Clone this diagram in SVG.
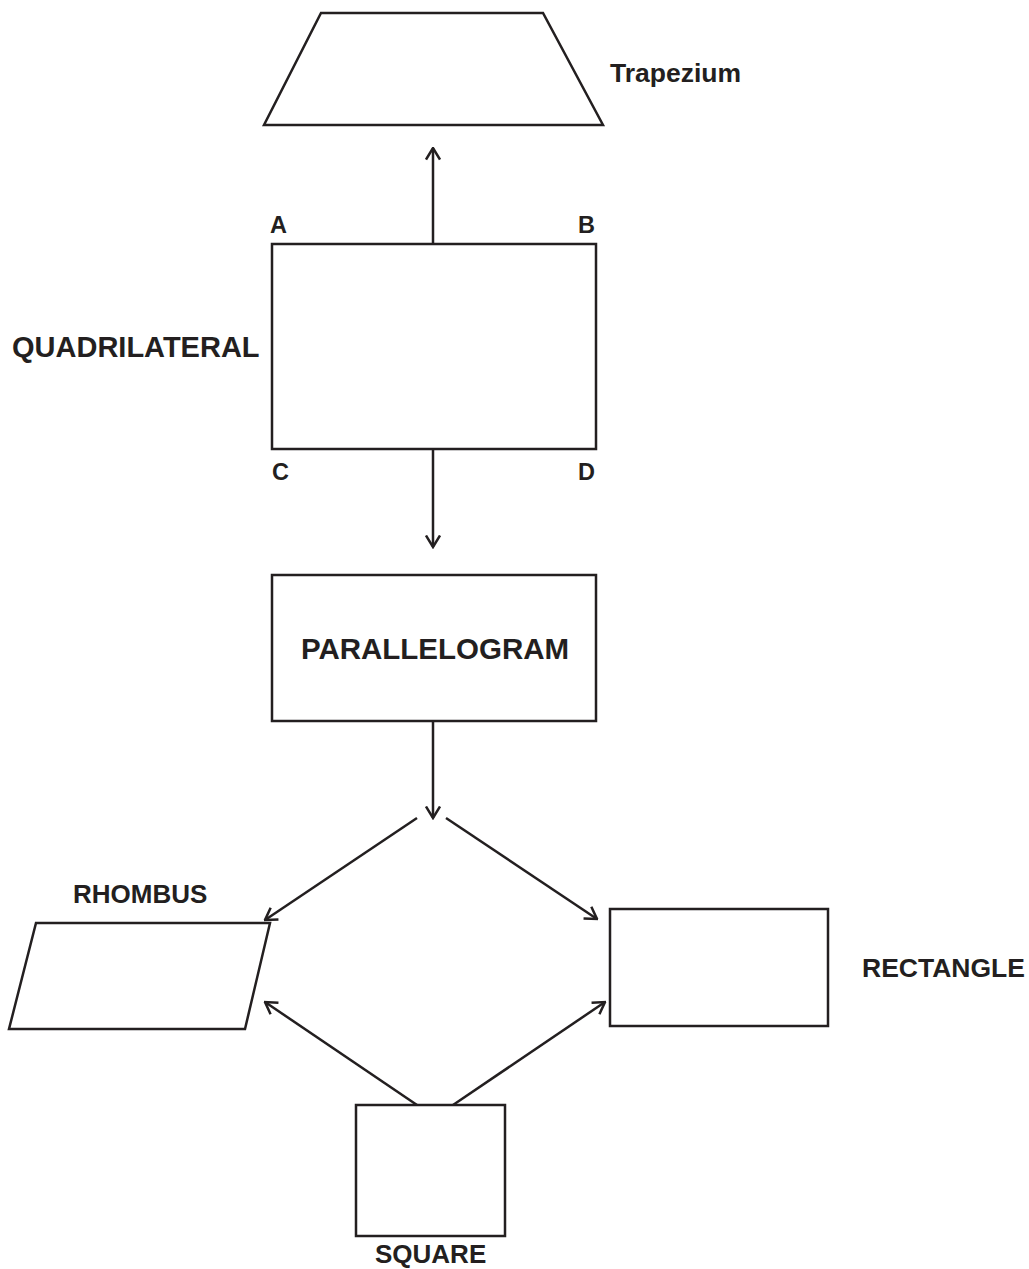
<svg xmlns="http://www.w3.org/2000/svg" width="1029" height="1269" viewBox="0 0 1029 1269">
<style>
.s{fill:#ffffff;stroke:#231f20;stroke-width:2.5}
.c{fill:none;stroke:#231f20;stroke-width:2.5}
.t{font-family:"Liberation Sans",Arial,sans-serif;font-weight:bold;fill:#231f20}
</style>
<defs>
<marker id="ah" viewBox="0 0 14 16" refX="12.5" refY="8" markerWidth="14" markerHeight="16" markerUnits="userSpaceOnUse" orient="auto">
<path d="M1,1 L12.5,8 L1,15" fill="none" stroke="#231f20" stroke-width="2.5"/>
</marker>
</defs>
<rect width="1029" height="1269" fill="#ffffff"/>
<g id="connectors">
<line class="c" x1="433" y1="243" x2="433" y2="148" marker-end="url(#ah)"/>
<line class="c" x1="433" y1="450" x2="433" y2="547" marker-end="url(#ah)"/>
<line class="c" x1="433" y1="721" x2="433" y2="818" marker-end="url(#ah)"/>
<line class="c" x1="417" y1="818" x2="265" y2="920" marker-end="url(#ah)"/>
<line class="c" x1="446" y1="818" x2="597" y2="919" marker-end="url(#ah)"/>
<line class="c" x1="417" y1="1105" x2="265" y2="1002" marker-end="url(#ah)"/>
<line class="c" x1="453" y1="1105" x2="605" y2="1002" marker-end="url(#ah)"/>
</g>
<g id="trapezium">
<polygon class="s" points="321,13 543,13 603,125 264,125"/>
<text class="t" x="610" y="82" font-size="26.5">Trapezium</text>
</g>
<g id="quadrilateral">
<rect class="s" x="272" y="244" width="324" height="205"/>
<text class="t" x="12" y="357" font-size="29">QUADRILATERAL</text>
<text class="t" x="270" y="233" font-size="23.5">A</text>
<text class="t" x="578" y="233" font-size="23.5">B</text>
<text class="t" x="272" y="480" font-size="23.5">C</text>
<text class="t" x="578" y="480" font-size="23.5">D</text>
</g>
<g id="parallelogram">
<rect class="s" x="272" y="575" width="324" height="146"/>
<text class="t" x="435" y="659" font-size="29.5" text-anchor="middle">PARALLELOGRAM</text>
</g>
<g id="rhombus">
<polygon class="s" points="36,923 270,923 245,1029 9,1029"/>
<text class="t" x="73" y="903" font-size="26">RHOMBUS</text>
</g>
<g id="rectangle">
<rect class="s" x="610" y="909" width="218" height="117"/>
<text class="t" x="862" y="977" font-size="26.5">RECTANGLE</text>
</g>
<g id="square">
<rect class="s" x="356" y="1105" width="149" height="131"/>
<text class="t" x="375" y="1263" font-size="26">SQUARE</text>
</g>
</svg>
